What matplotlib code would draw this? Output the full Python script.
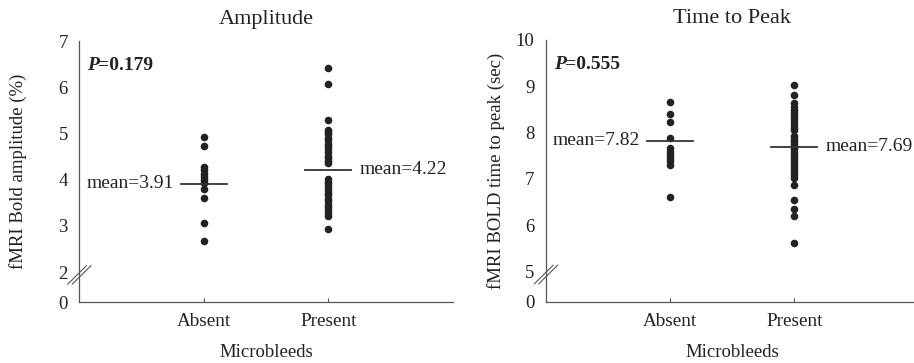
import numpy as np
import matplotlib
matplotlib.use('Agg')
import matplotlib.pyplot as plt

plt.rcParams['font.family'] = ['Liberation Serif', 'DejaVu Serif']

groups = ['Absent', 'Present']

# amplitude (%)
amp_absent = [4.92, 4.73, 4.27, 4.20, 4.13, 4.06, 3.99, 3.92, 3.79, 3.60, 3.06, 2.68]
amp_present = [6.41, 6.06, 5.29, 5.08, 5.03, 4.98, 4.91, 4.86, 4.78, 4.72, 4.66, 4.59,
               4.52, 4.47, 4.40, 4.35, 4.02, 3.96, 3.91, 3.84, 3.78, 3.71, 3.66, 3.58,
               3.53, 3.46, 3.40, 3.34, 3.27, 3.21, 2.94]
amp_means = [3.91, 4.22]
amp_pval = '=0.179'

# time to peak (sec)
ttp_absent = [8.67, 8.40, 8.22, 7.89, 7.66, 7.59, 7.52, 7.45, 7.38, 7.31, 6.61]
ttp_present = [9.03, 8.82, 8.63, 8.56, 8.49, 8.43, 8.36, 8.30, 8.23, 8.17, 8.10, 8.06,
               7.93, 7.87, 7.81, 7.75, 7.70, 7.64, 7.58, 7.52, 7.46, 7.40, 7.34, 7.28,
               7.22, 7.16, 7.09, 7.03, 6.87, 6.54, 6.36, 6.20, 5.61]
ttp_means = [7.82, 7.69]
ttp_pval = '=0.555'

dark = '#222222'
grey = '#555555'


def panel(ax, absent, present, means, pval, title, ylabel, lo, hi, yticks, ylab_x):
    gap = 0.647
    ax.set_xlim(0, 3)
    ax.set_ylim(lo - gap, hi)
    for i, vals in enumerate([absent, present]):
        ax.scatter(np.full(len(vals), i + 1), vals, s=30, color=dark, zorder=3, linewidths=0)
        ax.plot([i + 1 - 0.185, i + 1 + 0.185], [means[i], means[i]], color='#333333', lw=1.3, zorder=4)
    # mean labels: absent on the left, present on the right
    ax.text(1 - 0.24, means[0], 'mean=%.2f' % means[0], ha='right', va='center',
            fontsize=14, color=dark)
    ax.text(2 + 0.25, means[1], 'mean=%.2f' % means[1], ha='left', va='center',
            fontsize=14, color=dark)

    ax.text(0.022, 0.905, 'P', transform=ax.transAxes,
            fontsize=14, fontweight='bold', style='italic', ha='left', va='center', color=dark)
    ax.text(0.022 + 0.030, 0.905, pval, transform=ax.transAxes,
            fontsize=14, fontweight='bold', ha='left', va='center', color=dark)

    ax.set_yticks([lo - gap] + yticks)
    ax.set_yticklabels(['0'] + [str(t) for t in yticks])
    ax.set_xticks([1, 2])
    ax.set_xticklabels(groups)
    ax.tick_params(axis='y', length=0, pad=8, labelsize=13.5, labelcolor=dark)
    ax.tick_params(axis='x', direction='in', length=3, width=0.8, color=grey, pad=8,
                   labelsize=13.8, labelcolor=dark)

    for s in ['top', 'right']:
        ax.spines[s].set_visible(False)
    for s in ['left', 'bottom']:
        ax.spines[s].set_color(grey)
        ax.spines[s].set_linewidth(0.9)

    # axis break marks
    tr = ax.get_yaxis_transform()
    for dx in [0.0, 0.012]:
        ax.plot([-0.030 + dx, 0.020 + dx], [lo - 0.26, lo + 0.14], color=grey, lw=0.8,
                transform=tr, clip_on=False)

    ax.set_title(title, fontsize=16, pad=12, color=dark)
    ax.set_xlabel('Microbleeds', fontsize=13.5, color=dark)
    ax.xaxis.label.set_va('center')
    ax.xaxis.set_label_coords(0.5, -0.195)
    ax.set_ylabel(ylabel, fontsize=13.5, color=dark)
    ax.yaxis.label.set_va('center')
    ax.yaxis.set_label_coords(ylab_x, 0.5)


fig = plt.figure(figsize=(9.14, 3.63), dpi=100)
ax1 = fig.add_axes([0.0864, 0.168, 0.409, 0.719])
ax2 = fig.add_axes([0.597, 0.169, 0.408, 0.721])

panel(ax1, amp_absent, amp_present, amp_means, amp_pval, 'Amplitude',
      'fMRI Bold amplitude (%)', 2, 7, [2, 3, 4, 5, 6, 7], -0.163)
panel(ax2, ttp_absent, ttp_present, ttp_means, ttp_pval, 'Time to Peak',
      'fMRI BOLD time to peak (sec)', 5, 10, [5, 6, 7, 8, 9, 10], -0.134)

fig.savefig('out.png', dpi=100)
